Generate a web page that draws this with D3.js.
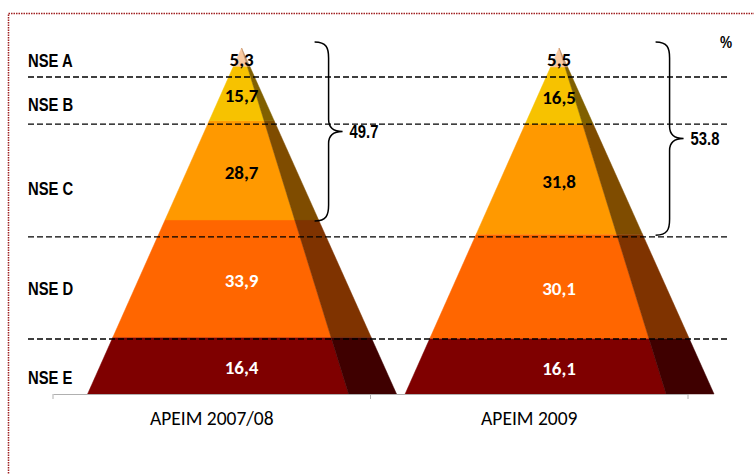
<!DOCTYPE html>
<html>
<head>
<meta charset="utf-8">
<script src="https://cdn.jsdelivr.net/npm/d3@7"></script>
<style>
  body { margin: 0; background: #fff; }
  svg { display: block; }
</style>
</head>
<body>
<div id="chart"></div>
<script>
var w = 754;
var h = 474;

// data
var categories = ["APEIM 2007/08", "APEIM 2009"];
var levels = ["NSE E", "NSE D", "NSE C", "NSE B", "NSE A"];
var values2007 = [16.4, 33.9, 28.7, 15.7, 5.3];
var values2009 = [16.1, 30.1, 31.8, 16.5, 5.5];
var valueLabels2007 = ["16,4", "33,9", "28,7", "15,7", "5,3"];
var valueLabels2009 = ["16,1", "30,1", "31,8", "16,5", "5,5"];
var braceTotals = [49.7, 53.8];
// levels where the row labels and dashed separators sit (percent from base)
var rowLabelLevels = [4.9, 30.6, 59.5, 83.8, 96.5];
var separatorLevels = [15.9, 45.4, 78.0, 91.6];

var frontColors = ["#7f0000", "#ff6600", "#ff9900", "#f7c200", "#f9c9a0"];
var sideColors = ["#3f0000", "#7f3300", "#7f4c00", "#806000", "#c0906a"];
var labelColors = ["#fff", "#fff", "#000", "#000", "#000"];

var svg = d3.select("#chart")
    .append("svg")
    .attr("width", w)
    .attr("height", h);

svg.append("rect").attr("width", w).attr("height", h).attr("fill", "#fff");

// dotted frame
svg.append("rect")
    .attr("x", 8.5).attr("y", 13.5)
    .attr("width", 770).attr("height", 480)
    .attr("fill", "none")
    .attr("stroke", "#a02020")
    .attr("stroke-width", 1.5)
    .attr("stroke-dasharray", "1.5,1");

var xScale = d3.scaleBand().domain(categories).range([53, 688]).padding(0);
var yScale = d3.scaleLinear().domain([0, 100]).range([394, 48]);

var bw = xScale.bandwidth();
var shift = bw * 0.094;      // perspective offset of the apex
var halfLeft = bw * 0.485;   // base, left of apex
var halfFront = bw * 0.337;  // base, front face right of apex
var halfOuter = bw * 0.488;  // base, side face right of apex

var data = [
  { cat: categories[0], values: values2007, labels: valueLabels2007, total: braceTotals[0], braceX: 0.868 },
  { cat: categories[1], values: values2009, labels: valueLabels2009, total: braceTotals[1], braceX: 0.942 }
];

data.forEach(function(d) {
  var apex = xScale(d.cat) + bw / 2 + shift;
  var g = svg.append("g");
  var cum = 0;
  d.mid = [];
  d.values.forEach(function(v, i) {
    var b = cum, t = cum + v;
    cum = t;
    var fb = 1 - b / 100, ft = 1 - t / 100;
    var front = [
      [apex - halfLeft * fb, yScale(b)],
      [apex + halfFront * fb, yScale(b)],
      [apex + halfFront * ft, yScale(t)],
      [apex - halfLeft * ft, yScale(t)]
    ];
    var side = [
      [apex + halfFront * fb, yScale(b)],
      [apex + halfOuter * fb, yScale(b)],
      [apex + halfOuter * ft, yScale(t)],
      [apex + halfFront * ft, yScale(t)]
    ];
    g.append("polygon")
      .attr("points", front.map(function(p) { return p.join(","); }).join(" "))
      .attr("fill", frontColors[i]).attr("stroke", frontColors[i]).attr("stroke-width", 0.5);
    g.append("polygon")
      .attr("points", side.map(function(p) { return p.join(","); }).join(" "))
      .attr("fill", sideColors[i]).attr("stroke", sideColors[i]).attr("stroke-width", 0.5);
    d.mid[i] = (yScale(b) + yScale(t)) / 2;
  });
});

// x axis
var axis = svg.append("g")
    .attr("transform", "translate(0,394)")
    .call(d3.axisBottom(xScale).tickSize(0).tickFormat(""));
axis.select(".domain").attr("stroke", "#b0b0b0");
axis.selectAll(".cat-tick")
    .data([0, 1, 2]).enter().append("line")
    .attr("x1", function(i) { return 53 + i * bw; })
    .attr("x2", function(i) { return 53 + i * bw; })
    .attr("y1", 0).attr("y2", 5)
    .attr("stroke", "#b0b0b0");

svg.selectAll(".cat-label")
    .data(categories).enter().append("text")
    .attr("x", function(d) { return xScale(d) + bw / 2; })
    .attr("y", 425)
    .attr("text-anchor", "middle")
    .style("font-family", "Carlito, 'Open Sans', sans-serif")
    .style("font-size", "19.5px")
    .attr("fill", "#000")
    .text(function(d) { return d; });

// dashed separators
svg.selectAll(".sep")
    .data(separatorLevels).enter().append("line")
    .attr("x1", 28).attr("x2", 730)
    .attr("y1", function(d) { return yScale(d); })
    .attr("y2", function(d) { return yScale(d); })
    .attr("stroke", "#000")
    .attr("stroke-width", 1.4)
    .attr("stroke-dasharray", "6,3");

// value labels
data.forEach(function(d) {
  var apex = xScale(d.cat) + bw / 2 + shift;
  svg.selectAll(null)
    .data(d.labels).enter().append("text")
    .attr("x", apex)
    .attr("y", function(l, i) { return d.mid[i] + 2; })
    .attr("dy", "0.35em")
    .attr("text-anchor", "middle")
    .style("font-family", "Carlito, 'Open Sans', sans-serif")
    .style("font-weight", "bold")
    .style("font-size", "19px")
    .attr("fill", function(l, i) { return labelColors[i]; })
    .text(function(l) { return l; });
});

// bold condensed text, like Arial Narrow
function narrowText(x, y, s, size) {
  return svg.append("text")
    .attr("transform", "translate(" + x + "," + y + ") scale(0.8,1)")
    .attr("dy", "0.35em")
    .style("font-family", "'Liberation Sans', Arial, sans-serif")
    .style("font-weight", "bold")
    .style("font-size", size + "px")
    .attr("fill", "#000")
    .text(s);
}

// row labels
levels.forEach(function(l, i) {
  narrowText(28, yScale(rowLabelLevels[i]), l, 18.5);
});

// braces
function bracePath(x, y0, y1) {
  var ym = (y0 + y1) / 2, r = 14, tip = 14;
  return "M" + (x - r) + "," + y0 +
    " C" + (x - 2) + "," + y0 + " " + x + "," + (y0 + 6) + " " + x + "," + (y0 + 16) +
    " L" + x + "," + (ym - 12) +
    " C" + x + "," + (ym - 4) + " " + (x + 4) + "," + ym + " " + (x + tip) + "," + ym +
    " C" + (x + 4) + "," + ym + " " + x + "," + (ym + 4) + " " + x + "," + (ym + 12) +
    " L" + x + "," + (y1 - 16) +
    " C" + x + "," + (y1 - 6) + " " + (x - 2) + "," + y1 + " " + (x - r) + "," + y1;
}

data.forEach(function(d) {
  var bx = xScale(d.cat) + bw * d.braceX;
  var y0 = yScale(100) - 6;
  var y1 = yScale(100 - d.total) + 1;
  svg.append("path")
    .attr("d", bracePath(bx, y0, y1))
    .attr("fill", "none")
    .attr("stroke", "#000")
    .attr("stroke-width", 1.5);
  narrowText(bx + 21, (y0 + y1) / 2, d3.format(".1f")(d.total), 18.5);
});

narrowText(720, 42, "%", 17);
</script>
</body>
</html>
